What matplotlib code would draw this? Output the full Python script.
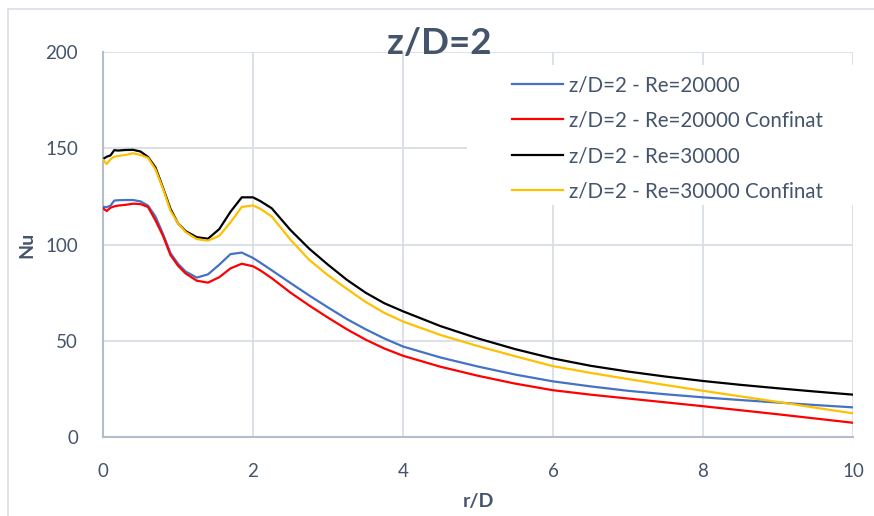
import matplotlib.pyplot as plt
from matplotlib.lines import Line2D
from matplotlib.patches import Rectangle

# r/D sampling positions
r = [0, 0.05, 0.1, 0.15, 0.2, 0.3, 0.4, 0.5, 0.6, 0.7, 0.8, 0.9, 1.0, 1.1,
     1.25, 1.4, 1.55, 1.7, 1.85, 2.0, 2.1, 2.25, 2.5, 2.75, 3.0, 3.25, 3.5,
     3.75, 4.0, 4.5, 5.0, 5.5, 6.0, 6.5, 7.0, 7.5, 8.0, 8.5, 9.0, 9.5, 10.0]

nu_re20000 = [119.6, 119.4, 120.2, 122.8, 123.0, 123.1, 123.1, 122.4, 120.2,
              114.5, 105.5, 95.5, 90.0, 86.0, 82.8, 84.5, 89.5, 95.0, 95.8,
              93.0, 90.5, 86.6, 80.0, 73.5, 67.3, 61.3, 56.0, 51.2, 47.0,
              41.3, 36.6, 32.4, 28.9, 26.3, 24.0, 22.2, 20.6, 19.2, 17.9,
              16.6, 15.4]

nu_re20000_conf = [118.8, 117.4, 119.1, 119.8, 120.2, 120.6, 121.2, 121.0, 119.5,
                   112.5, 104.5, 94.5, 89.0, 85.0, 81.2, 80.2, 83.0, 87.6, 90.0,
                   88.7, 86.5, 82.5, 75.0, 68.3, 62.0, 56.0, 50.6, 46.0, 42.2,
                   36.5, 31.8, 27.7, 24.3, 22.0, 20.0, 18.0, 16.0, 13.9, 11.8,
                   9.6, 7.4]

nu_re30000 = [144.4, 145.6, 146.3, 149.0, 148.8, 149.1, 149.2, 148.3, 145.5,
              140.0, 129.5, 118.5, 111.0, 107.0, 103.8, 103.0, 108.0, 117.0,
              124.5, 124.5, 122.5, 118.8, 107.5, 97.8, 89.5, 81.7, 75.0, 69.5,
              65.3, 57.6, 51.2, 45.6, 40.8, 37.0, 34.0, 31.4, 29.1, 27.1, 25.3,
              23.6, 22.0]

nu_re30000_conf = [144.0, 141.8, 144.3, 145.6, 146.0, 146.5, 147.4, 146.5, 145.0,
                   139.0, 129.0, 117.5, 111.0, 106.5, 102.8, 102.0, 104.5, 111.5,
                   119.5, 120.3, 118.5, 114.5, 102.5, 92.0, 84.0, 77.0, 70.2,
                   64.5, 60.0, 53.0, 47.2, 41.9, 36.8, 33.3, 30.1, 27.0, 24.0,
                   21.1, 18.2, 15.2, 12.3]

labels = ['z/D=2 - Re=20000', 'z/D=2 - Re=20000 Confinat',
          'z/D=2 - Re=30000', 'z/D=2 - Re=30000 Confinat']
colors = ['#4472C4', '#FF0000', '#000000', '#FFC000']

plt.rcParams['font.family'] = ['Lato', 'DejaVu Sans']
txt = '#44546A'
grid_c = '#D9DEE6'

fig = plt.figure(figsize=(8.74, 5.16), dpi=100)
ax = fig.add_axes([103 / 874, 1 - 437 / 516, 750 / 874, 385 / 516])

series = [nu_re20000, nu_re20000_conf, nu_re30000, nu_re30000_conf]
for ys, lab, col in zip(series, labels, colors):
    ax.plot(r, ys, color=col, lw=1.6, label=lab, zorder=3)

ax.set_xlim(0, 10)
ax.set_ylim(0, 200)
ax.set_xticks([0, 2, 4, 6, 8, 10])
ax.set_yticks([0, 50, 100, 150, 200])
ax.grid(True, color=grid_c, lw=1.3)
ax.set_axisbelow(True)
for s in ['top', 'right']:
    ax.spines[s].set_visible(False)
for s in ['left', 'bottom']:
    ax.spines[s].set_color('#B4BDCB')
    ax.spines[s].set_linewidth(1.5)
ax.tick_params(length=0, labelsize=13.5, labelcolor=txt)
ax.tick_params(axis='x', pad=19)
ax.tick_params(axis='y', pad=18)

ax.set_xlabel('r/D', fontsize=14, fontweight='bold', color=txt, labelpad=9)
ax.set_ylabel('Nu', fontsize=14, fontweight='bold', color=txt, labelpad=7)
fig.text(0.503, 1 - 44 / 516, 'z/D=2', fontsize=26.5, fontweight='bold',
         color=txt, ha='center', va='center')

# white legend area covering gridlines
ax.add_patch(Rectangle((467 / 874, 1 - 205 / 516), 400 / 874, 140 / 516,
                       transform=fig.transFigure, facecolor='white',
                       edgecolor='none', zorder=1.5, clip_on=False))

leg = ax.legend(loc='upper left', bbox_to_anchor=(502 / 874, 1 - 65 / 516),
                bbox_transform=fig.transFigure, fontsize=14.8, frameon=False,
                handlelength=2.48, handletextpad=0.3, labelspacing=0.75,
                borderpad=0.5, borderaxespad=0)
for t in leg.get_texts():
    t.set_color(txt)

# outer chart border (partly cropped)
fig.add_artist(Line2D([8 / 874, 8 / 874], [0, 1 - 9 / 516], color='#D9DEE6', lw=1.2))
fig.add_artist(Line2D([8 / 874, 1], [1 - 9 / 516, 1 - 9 / 516], color='#D9DEE6', lw=1.2))

fig.savefig('out.png', dpi=100)
